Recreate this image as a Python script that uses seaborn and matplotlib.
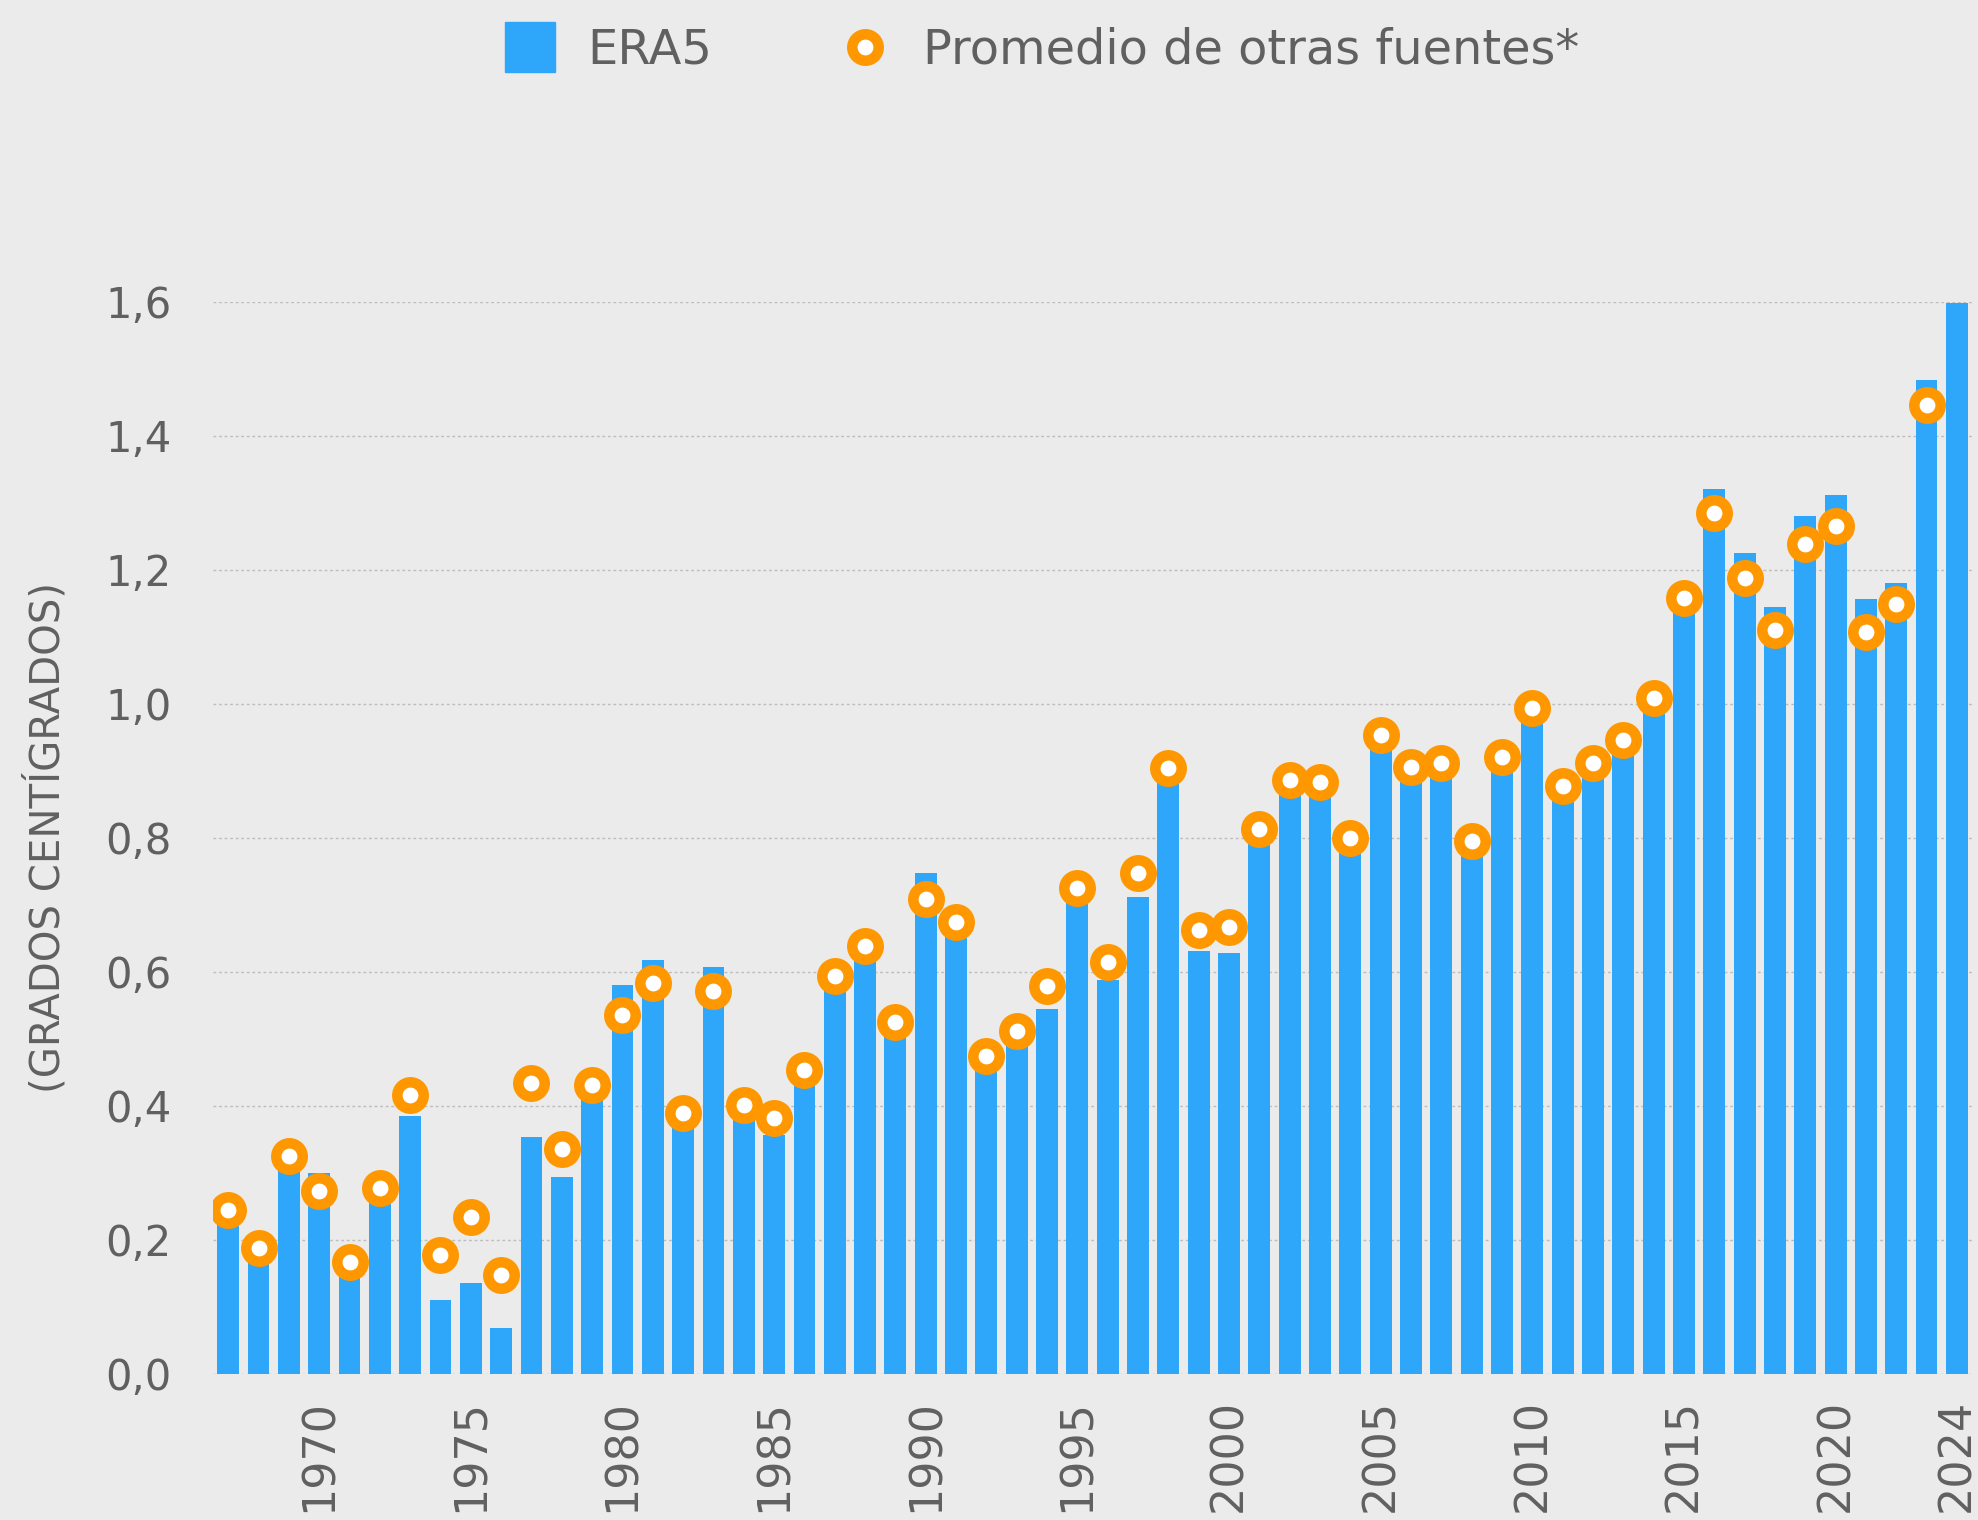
import numpy as np
import pandas as pd
import seaborn as sns
import matplotlib.pyplot as plt
from matplotlib.lines import Line2D

# datos: anomalia de temperatura global (grados C)
years = list(range(1967, 2025))
era5 = [0.23, 0.17, 0.31, 0.30, 0.15, 0.26, 0.385, 0.11, 0.135, 0.068,
        0.354, 0.294, 0.41, 0.581, 0.617, 0.37, 0.607, 0.38, 0.357, 0.435,
        0.572, 0.618, 0.504, 0.748, 0.654, 0.452, 0.49, 0.545, 0.705, 0.588,
        0.712, 0.884, 0.631, 0.628, 0.793, 0.865, 0.862, 0.78, 0.933, 0.884,
        0.89, 0.773, 0.90, 0.971, 0.856, 0.889, 0.925, 0.988, 1.137, 1.320,
        1.225, 1.144, 1.280, 1.311, 1.156, 1.180, 1.483, 1.598]
otras = [0.245, 0.188, 0.325, 0.273, 0.167, 0.277, 0.416, 0.177, 0.234, 0.148,
         0.434, 0.336, 0.431, 0.536, 0.584, 0.390, 0.572, 0.401, 0.382, 0.453,
         0.593, 0.638, 0.525, 0.709, 0.674, 0.475, 0.511, 0.579, 0.725, 0.615,
         0.748, 0.904, 0.662, 0.667, 0.813, 0.886, 0.883, 0.800, 0.953, 0.905,
         0.912, 0.795, 0.921, 0.994, 0.877, 0.911, 0.946, 1.008, 1.158, 1.285,
         1.187, 1.110, 1.238, 1.265, 1.107, 1.149, 1.445, np.nan]
yticks = [0.0, 0.2, 0.4, 0.6, 0.8, 1.0, 1.2, 1.4, 1.6]
legend_labels = ["ERA5", "Promedio de otras fuentes*"]

azul = "#2EA6FA"
naranja = "#FF9800"
gris = "#606060"
fondo = "#EBEBEB"

df = pd.DataFrame({"year": [str(y) for y in years], "era5": era5, "otras": otras})
order = df["year"].tolist()

sns.set_style("white")
plt.rcParams["font.family"] = ["DejaVu Sans"]

fig = plt.figure(figsize=(19.78, 15.2), dpi=100, facecolor=fondo)
ax = fig.add_axes([0.1077, 0.0961, 0.8893, 0.7055])
ax.set_facecolor(fondo)

sns.barplot(data=df, x="year", y="era5", order=order, color=azul,
            saturation=1, width=0.72, linewidth=0, ax=ax, zorder=2)
# marcadores: anillo naranja con centro blanco
sns.pointplot(data=df, x="year", y="otras", order=order, color=naranja,
              linestyle="none", markers="o", errorbar=None, ax=ax,
              markersize=19, markeredgewidth=7.6,
              markerfacecolor="white", markeredgecolor=naranja)
for ln in ax.lines:
    ln.set_zorder(3)

ax.set_xlim(-0.5, len(years) - 0.5)
ax.set_ylim(0, 1.6)
ax.set_yticks(yticks)
ax.set_yticklabels([f"{v:.1f}".replace(".", ",") for v in yticks])

pos = [i for i, y in enumerate(years) if y % 5 == 0 or y == years[-1]]
ax.set_xticks(pos)
ax.set_xticklabels([str(years[i]) for i in pos], rotation=90)

ax.tick_params(axis="y", labelsize=30, colors=gris, length=0, pad=30)
ax.tick_params(axis="x", labelsize=32, colors=gris, length=0, pad=18)

ax.grid(axis="y", linestyle=(0, (2, 2)), color="#BDBDBD", linewidth=1, zorder=0)
ax.set_axisbelow(True)
for s in ax.spines.values():
    s.set_visible(False)

ax.set_xlabel("")
ax.set_ylabel("(GRADOS CENTÍGRADOS)", fontsize=29, color=gris, labelpad=26)

handles = [
    Line2D([], [], marker="s", linestyle="none", markersize=36,
           markerfacecolor=azul, markeredgecolor=azul),
    Line2D([], [], marker="o", linestyle="none", markersize=19,
           markeredgewidth=7.6, markerfacecolor="white", markeredgecolor=naranja),
]
fig.legend(handles, legend_labels, loc="center", bbox_to_anchor=(0.527, 0.967),
           ncol=2, frameon=False, fontsize=34.5, labelcolor=gris,
           handlelength=1.0, handletextpad=0.7, columnspacing=2.7)

fig.savefig("out.png", dpi=100, facecolor=fondo)
